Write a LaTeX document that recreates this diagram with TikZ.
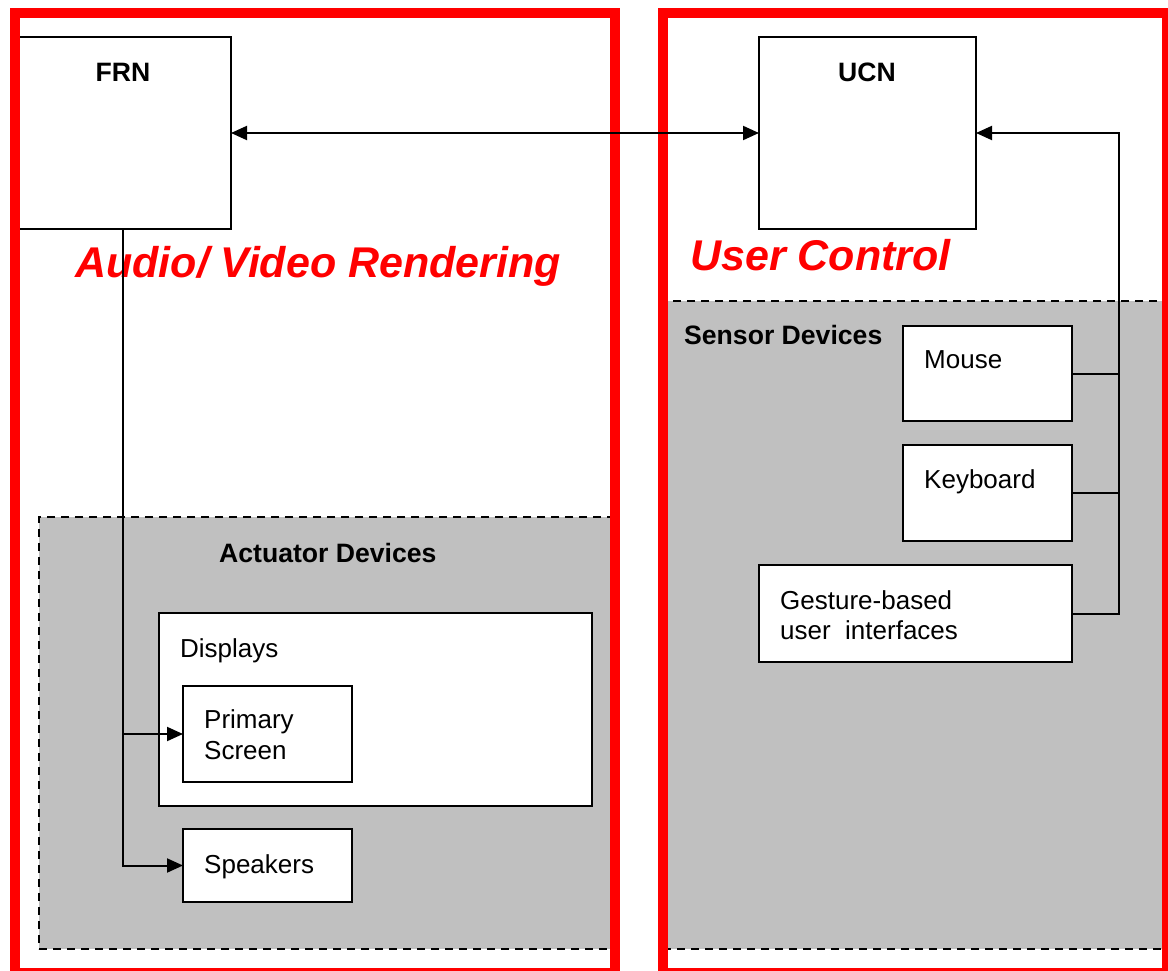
\documentclass[tikz,border=0pt]{standalone}
\usepackage{fontspec}
\setmainfont{Liberation Sans}
\usetikzlibrary{arrows.meta}
\definecolor{framered}{HTML}{FF0000}
\definecolor{devgray}{HTML}{C0C0C0}
\begin{document}
\begin{tikzpicture}[x=1pt,y=-1pt,
  frame/.style={draw=framered, line width=10pt, inner sep=0pt, outer sep=0pt, anchor=north west},
  region/.style={draw=black, fill=devgray, dash pattern=on 8pt off 6pt, line width=2pt, inner sep=0pt, outer sep=0pt, anchor=north west},
  devbox/.style={draw=black, fill=white, line width=2pt, inner sep=0pt, outer sep=0pt, anchor=north west},
  lbl/.style={inner sep=0pt, anchor=base west, font=\fontsize{26}{31}\selectfont},
  heading/.style={inner sep=0pt, font=\bfseries\fontsize{26.6}{31}\selectfont},
  area/.style={inner sep=0pt, anchor=base west, text=framered, font=\bfseries\itshape\fontsize{43}{50}\selectfont},
  link/.style={line width=2pt},
  arr/.style={-{Triangle[length=16pt,width=14pt]}},
  biarr/.style={{Triangle[length=16pt,width=14pt]}-{Triangle[length=16pt,width=14pt]}}
]
\useasboundingbox (0,0) rectangle (1168,971);
\fill[white] (0,0) rectangle (1168,971);
\clip (0,0) rectangle (1168,971);

% grey device groups
\node[region, minimum width=576pt, minimum height=432pt] (actreg) at (39,517) {};
\node[region, minimum width=504pt, minimum height=648pt] (senreg) at (663,301) {};

% boxes
\node[devbox, minimum width=216pt, minimum height=192pt] (frn) at (15,37) {};
\node[devbox, minimum width=217pt, minimum height=192pt] (ucn) at (759,37) {};
\node[devbox, minimum width=433pt, minimum height=193pt] (disp) at (159,613) {};
\node[devbox, minimum width=169pt, minimum height=96pt] (prim) at (183,686) {};
\node[devbox, minimum width=169pt, minimum height=73pt] (spk) at (183,829) {};
\node[devbox, minimum width=169pt, minimum height=95pt] (mouse) at (903,326) {};
\node[devbox, minimum width=169pt, minimum height=96pt] (kbd) at (903,445) {};
\node[devbox, minimum width=313pt, minimum height=97pt] (gest) at (759,565) {};

% red domain frames
\node[frame, minimum width=600pt, minimum height=960pt] (avframe) at (15,13) {};
\node[frame, minimum width=504pt, minimum height=960pt] (ucframe) at (663,13) {};

% texts
\node[heading, anchor=base] (frntxt) at (123,82) {FRN};
\node[heading, anchor=base] (ucntxt) at (867,82) {UCN};
\node[area] (avtitle) at (75,277) {Audio/ Video Rendering};
\node[area] (uctitle) at (690,270) {User Control};
\node[heading, anchor=base west] (acttxt) at (219,562) {Actuator Devices};
\node[heading, anchor=base west] (sentxt) at (684,344) {Sensor Devices};
\node[lbl] (disptxt) at (180,657) {Displays};
\node[lbl] (primtxta) at (204,728) {Primary};
\node[lbl] (primtxtb) at (204,759) {Screen};
\node[lbl] (spktxt) at (204,873) {Speakers};
\node[lbl] (mousetxt) at (924,368) {Mouse};
\node[lbl] (kbdtxt) at (924,488) {Keyboard};
\node[lbl] (gesttxta) at (780,609) {Gesture-based};
\node[lbl] (gesttxtb) at (780,639) {user\ \ interfaces};

% connectors
\draw[link, biarr] (frn) -- (ucn);
\draw[link, arr] (frn.south) |- (spk.west);
\draw[link, arr] (frn.south |- prim.west) -- (prim.west);
\coordinate (bus) at ([xshift=143pt]ucn.east);
\draw[link, arr] (gest.east) -- (gest.east -| bus) -- (bus) -- (ucn.east);
\draw[link] (mouse.east) -- (mouse.east -| bus);
\draw[link] (kbd.east) -- (kbd.east -| bus);
\end{tikzpicture}
\end{document}
